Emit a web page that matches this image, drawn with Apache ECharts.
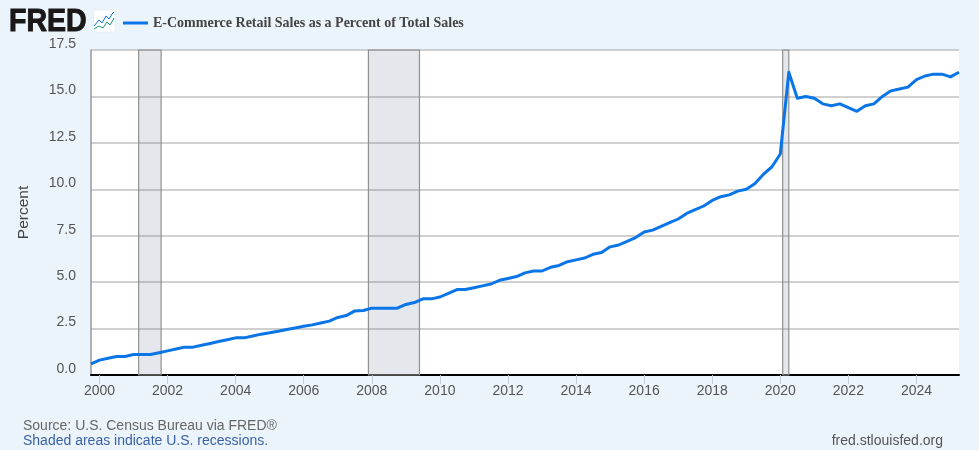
<!DOCTYPE html>
<html><head><meta charset="utf-8">
<style>html,body{margin:0;padding:0;background:#ebf3fb}#c{width:979px;height:450px}</style>
<script src="https://cdn.jsdelivr.net/npm/echarts@6/dist/echarts.min.js"></script>
</head><body><div id="c"></div>
<script>
const seriesName = 'E-Commerce Retail Sales as a Percent of Total Sales';
const startYear = 1999, startQuarter = 4;
const values = [0.6,
 0.8,0.9,1.0,1.0, 1.1,1.1,1.1,1.2, 1.3,1.4,1.5,1.5, 1.6,1.7,1.8,1.9,
 2.0,2.0,2.1,2.2, 2.27,2.36,2.45,2.53, 2.62,2.7,2.8,2.9, 3.1,3.2,3.45,3.47,
 3.6,3.6,3.6,3.6, 3.8,3.9,4.1,4.1, 4.2,4.4,4.6,4.6, 4.7,4.8,4.9,5.1,
 5.2,5.3,5.5,5.6, 5.6,5.8,5.9,6.1, 6.2,6.3,6.5,6.6, 6.9,7.0,7.2,7.4,
 7.7,7.8,8.0,8.2, 8.4,8.7,8.9,9.1, 9.4,9.6,9.7,9.9, 10.0,10.3,10.8,11.2,
 11.9,16.3,14.9,15.0, 14.9,14.6,14.5,14.6, 14.4,14.2,14.5,14.6, 15.0,15.3,15.4,15.5,
 15.9,16.1,16.2,16.2, 16.05,16.3];
const recessions = [[2001.15,2001.81],[2007.9,2009.4],[2020.07,2020.25]];
const yearTicks = [2000,2002,2004,2006,2008,2010,2012,2014,2016,2018,2020,2022,2024];
const iconBlue = [[0,16],[5,10],[8,13],[12,6],[15,9],[18,4],[20,2]];
const iconGreen = [[0,19],[5,16],[9,18],[13,12],[16,15],[19,10],[20,8]];

const times = values.map((_, i) => startYear + (startQuarter - 1 + i) / 4);
const sans = '"Liberation Sans", Arial, sans-serif';
const chart = echarts.init(document.getElementById('c'), null, {renderer: 'canvas'});
chart.setOption({
  animation: false,
  backgroundColor: '#ebf3fb',
  grid: {left: 91, right: 20, top: 50, bottom: 75, backgroundColor: '#fff', show: true, borderWidth: 0},
  legend: {
    left: 118, top: 11, itemWidth: 25, itemHeight: 3, itemGap: 5, icon: 'rect',
    textStyle: {fontFamily: '"Liberation Serif", serif', fontWeight: 'bold', fontSize: 14, color: '#444'},
    data: [seriesName]
  },
  xAxis: {
    type: 'value',
    min: times[0], max: times[times.length - 1],
    axisLine: {onZero: false, lineStyle: {color: '#000', width: 2}},
    axisTick: {show: true, length: 9, customValues: yearTicks, lineStyle: {color: '#c4ccd6', width: 1}},
    axisLabel: {customValues: yearTicks, formatter: v => String(v),
      fontFamily: sans, fontSize: 14, color: '#555', margin: 9},
    splitLine: {show: false}
  },
  yAxis: {
    type: 'value', min: 0, max: 17.5, interval: 2.5,
    name: 'Percent', nameLocation: 'middle', nameGap: 59,
    nameTextStyle: {fontFamily: sans, fontSize: 15.5, color: '#444'},
    axisLine: {show: true, lineStyle: {color: '#999', width: 1.5}},
    axisTick: {show: false},
    axisLabel: {formatter: v => v.toFixed(1), fontFamily: sans, fontSize: 14, color: '#555', margin: 15, verticalAlign: 'bottom', padding: [0,0,-1,0]},
    splitLine: {show: true, lineStyle: {color: '#c1c1c1', width: 1.5}}
  },
  series: [{
    name: seriesName, type: 'line', showSymbol: false, z: 5,
    data: times.map((t, i) => [t, values[i]]),
    lineStyle: {color: '#0a75e6', width: 3, join: 'round'},
    itemStyle: {color: '#0a75e6'},
    markArea: {
      silent: true,
      itemStyle: {color: 'rgba(88,108,128,0.16)', borderColor: '#909090', borderWidth: 1.2},
      data: recessions.map(r => [{xAxis: r[0]}, {xAxis: r[1]}])
    }
  }],
  graphic: [
    {type: 'text', x: 9, y: 7, scaleX: 0.92, style: {text: 'FRED', fontFamily: '"Liberation Sans", sans-serif', fontWeight: 900, fontSize: 31, fill: '#1a1718', stroke: '#1a1718', lineWidth: 1}},
    {type: 'rect', shape: {x: 93.5, y: 10, width: 21.5, height: 22, r: 2}, style: {fill: '#fff', stroke: '#dfe5ec', lineWidth: 0.5}},
    {type: 'polyline', x: 94, y: 10, shape: {points: iconBlue}, style: {stroke: '#0a75e6', fill: null, lineWidth: 1}},
    {type: 'polyline', x: 94, y: 10, shape: {points: iconGreen}, style: {stroke: '#1a9a7a', fill: null, lineWidth: 1}},
    {type: 'text', left: 23, top: 419, style: {text: 'Source: U.S. Census Bureau via FRED®', fontFamily: sans, fontSize: 14, fill: '#666'}},
    {type: 'text', left: 23, top: 434, style: {text: 'Shaded areas indicate U.S. recessions.', fontFamily: sans, fontSize: 14, fill: '#3a62a5'}},
    {type: 'text', right: 36, top: 434, style: {text: 'fred.stlouisfed.org', fontFamily: sans, fontSize: 14, fill: '#555'}}
  ]
});
</script></body></html>
